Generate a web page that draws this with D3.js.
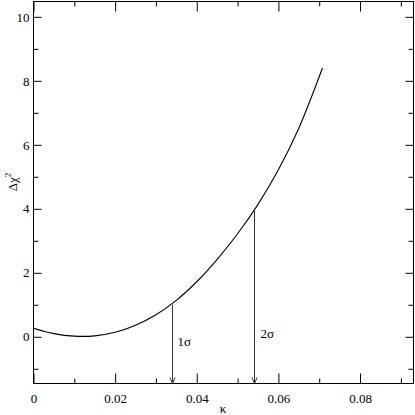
<!DOCTYPE html>
<html>
<head>
<meta charset="utf-8">
<script src="https://cdn.jsdelivr.net/npm/d3@7"></script>
<style>
  html, body { margin: 0; padding: 0; background: #fff; }
</style>
</head>
<body>
<div id="chart"></div>
<script>
// data
const kappa = [0, 0.005, 0.010, 0.015, 0.020, 0.025, 0.030, 0.035, 0.040, 0.045, 0.050, 0.055, 0.060, 0.065, 0.0708];
const deltaChi2 = [0.27, 0.10, 0.02, 0.03, 0.14, 0.36, 0.69, 1.14, 1.72, 2.42, 3.22, 4.14, 5.22, 6.52, 8.40];

// confidence arrows
const sigmaKappa = [0.034, 0.0541];
const sigmaLevel = [1, 4];
const sigmaLabels = ["1σ", "2σ"];

// ticks
const xMajor = [0, 0.02, 0.04, 0.06, 0.08];
const xMinor = [0.01, 0.03, 0.05, 0.07, 0.09];
const yMajor = [0, 2, 4, 6, 8, 10];
const yMinor = [-1, 1, 3, 5, 7, 9];

const W = 415, H = 415;
const FONT = '"Liberation Serif", "DejaVu Serif", serif';
const plot = { left: 33.5, right: 413.5, top: 1.5, bottom: 383.5 };

const svg = d3.select("#chart").append("svg")
  .attr("width", W)
  .attr("height", H)
  .attr("font-family", FONT);

const x = d3.scaleLinear().domain([0, 0.0931]).range([plot.left, plot.right]);
const y = d3.scaleLinear().domain([-1.46, 10.48]).range([plot.bottom, plot.top]);

const fmtX = (d) => (d === 0 ? "0" : d3.format(".2f")(d));

// ticks on all four sides, pointing inward
function addAxis(axis, transform, labels) {
  const g = svg.append("g").attr("transform", transform).call(axis);
  g.attr("font-family", FONT);
  g.select(".domain").remove();
  g.selectAll(".tick line").attr("stroke", "#000");
  if (!labels) g.selectAll("text").remove();
  g.selectAll("text").attr("font-family", FONT).attr("fill", "#000");
  return g;
}

const bx = addAxis(
  d3.axisBottom(x).tickValues(xMajor).tickSize(-10).tickPadding(8).tickFormat(fmtX),
  `translate(0,${plot.bottom})`, true);
bx.selectAll("text").attr("font-size", 13).attr("dy", "0.9em");
addAxis(d3.axisBottom(x).tickValues(xMinor).tickSize(-5), `translate(0,${plot.bottom})`, false);
addAxis(d3.axisTop(x).tickValues(xMajor).tickSize(-10), `translate(0,${plot.top})`, false);
addAxis(d3.axisTop(x).tickValues(xMinor).tickSize(-5), `translate(0,${plot.top})`, false);

const ly = addAxis(
  d3.axisLeft(y).tickValues(yMajor).tickSize(-8).tickPadding(4).tickFormat(d3.format("d")),
  `translate(${plot.left},0)`, true);
ly.selectAll("text").attr("font-size", 13);
addAxis(d3.axisLeft(y).tickValues(yMinor).tickSize(-5), `translate(${plot.left},0)`, false);
addAxis(d3.axisRight(y).tickValues(yMajor).tickSize(-8), `translate(${plot.right},0)`, false);
addAxis(d3.axisRight(y).tickValues(yMinor).tickSize(-5), `translate(${plot.right},0)`, false);

// frame
svg.append("rect")
  .attr("x", plot.left)
  .attr("y", plot.top)
  .attr("width", plot.right - plot.left)
  .attr("height", plot.bottom - plot.top)
  .attr("fill", "none")
  .attr("stroke", "#000")
  .attr("stroke-width", 1);

// curve
const points = kappa.map((k, i) => [k, deltaChi2[i]]);
const line = d3.line()
  .x((d) => x(d[0]))
  .y((d) => y(d[1]))
  .curve(d3.curveCatmullRom.alpha(0.5));

svg.append("path")
  .datum(points)
  .attr("d", line)
  .attr("fill", "none")
  .attr("stroke", "#000")
  .attr("stroke-width", 1.1);

// arrows down to the axis
const labelOffset = [[5, 346], [6, 338]];
sigmaKappa.forEach((k, i) => {
  const px = Math.round(x(k)) + 0.5;
  const top = y(sigmaLevel[i]);
  svg.append("line")
    .attr("x1", px).attr("x2", px)
    .attr("y1", top).attr("y2", plot.bottom)
    .attr("stroke", "#333")
    .attr("stroke-width", 1);
  svg.append("path")
    .attr("d", `M${px - 2.5},${plot.bottom - 6} L${px},${plot.bottom} L${px + 2.5},${plot.bottom - 6}`)
    .attr("fill", "none")
    .attr("stroke", "#333")
    .attr("stroke-width", 1);
  svg.append("text")
    .attr("x", px + labelOffset[i][0])
    .attr("y", labelOffset[i][1])
    .attr("font-size", 13)
    .text(sigmaLabels[i]);
});

// axis titles
svg.append("text")
  .attr("x", 223)
  .attr("y", 413)
  .attr("text-anchor", "middle")
  .attr("font-size", 13)
  .text("κ");

const yTitle = svg.append("text")
  .attr("transform", "translate(17,182) rotate(-90)")
  .attr("text-anchor", "middle")
  .attr("font-size", 13);
yTitle.append("tspan").text("Δχ");
yTitle.append("tspan").attr("font-size", 9).attr("dy", -6).text("2");
</script>
</body>
</html>
